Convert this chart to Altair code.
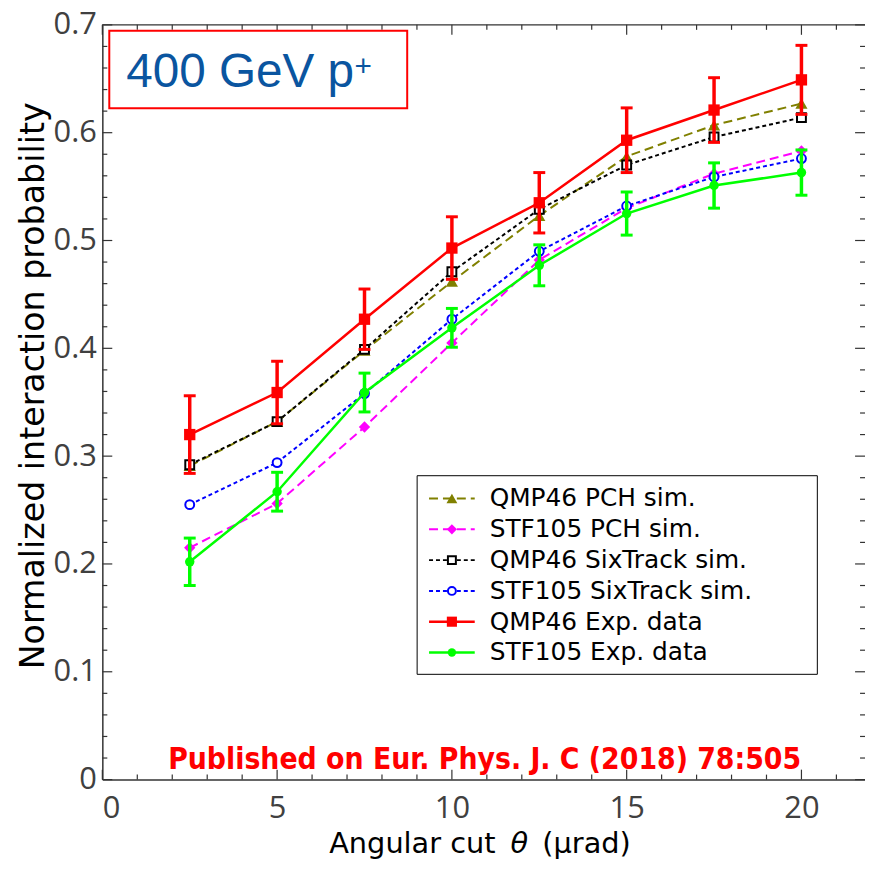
import altair as alt
import pandas as pd

# ---------------- data ----------------
theta = [2.5, 5, 7.5, 10, 12.5, 15, 17.5, 20]
qmp46_pch = [0.291, 0.332, 0.398, 0.462, 0.523, 0.578, 0.607, 0.627]
stf105_pch = [0.215, 0.256, 0.327, 0.405, 0.482, 0.530, 0.562, 0.583]
qmp46_six = [0.292, 0.332, 0.399, 0.471, 0.529, 0.570, 0.596, 0.614]
stf105_six = [0.255, 0.294, 0.358, 0.427, 0.490, 0.532, 0.559, 0.576]
qmp46_exp = [0.320, 0.359, 0.427, 0.493, 0.535, 0.593, 0.621, 0.649]
qmp46_err = [0.036, 0.029, 0.028, 0.029, 0.028, 0.030, 0.030, 0.032]
stf105_exp = [0.202, 0.267, 0.359, 0.419, 0.477, 0.525, 0.551, 0.563]
stf105_err = [0.022, 0.018, 0.018, 0.018, 0.019, 0.020, 0.021, 0.021]

labels = ["QMP46 PCH sim.", "STF105 PCH sim.", "QMP46 SixTrack sim.",
          "STF105 SixTrack sim.", "QMP46 Exp. data", "STF105 Exp. data"]

x_major = [0, 5, 10, 15, 20]
x_minor = [1, 2, 3, 4, 6, 7, 8, 9, 11, 12, 13, 14, 16, 17, 18, 19, 21]
y_major = [0, 0.1, 0.2, 0.3, 0.4, 0.5, 0.6, 0.7]
y_minor = [0.02, 0.04, 0.06, 0.08, 0.12, 0.14, 0.16, 0.18, 0.22, 0.24, 0.26, 0.28,
           0.32, 0.34, 0.36, 0.38, 0.42, 0.44, 0.46, 0.48, 0.52, 0.54, 0.56, 0.58,
           0.62, 0.64, 0.66, 0.68]

x_title_parts = ["Angular cut", "θ", "(μrad)"]
y_title = "Normalized interaction probability"

# ---------------- layout ----------------
W, H = 768, 760
XDOM = [0, W / 35.2]
YDOM = [0, 0.7]
TICKFONT = "Open Sans"
TITLEFONT = "DejaVu Sans"

xs = alt.Scale(domain=XDOM, nice=False, zero=False)
ys = alt.Scale(domain=YDOM, nice=False, zero=False)

XAXIS = alt.Axis(
    values=x_major, format="d", ticks=False, grid=False,
    domainColor="#333333", domainWidth=1.5,
    labelFont=TICKFONT, labelFontSize=31, labelColor="#404040", labelPadding=14,
    title=None)
YAXIS = alt.Axis(
    values=y_major, format="~g", ticks=False, grid=False,
    domainColor="#333333", domainWidth=1.5,
    labelFont=TICKFONT, labelFontSize=31, labelColor="#404040", labelPadding=6,
    title=y_title, titleFont=TITLEFONT,
    titleFontSize=33.5, titleFontWeight="normal", titleColor="#000000",
    titleX=-59, titleY=363, titleBaseline="alphabetic", titleAngle=270,
    titleAlign="center")


def X(field):
    return alt.X(field, scale=xs, axis=XAXIS)


def Y(field):
    return alt.Y(field, scale=ys, axis=YAXIS)


series = [
    # label, values, color, dash, shape, filled, size, strokeWidth
    (labels[0], qmp46_pch, "#808000", [9, 5], "triangle-up", True, 150, 2),
    (labels[1], stf105_pch, "#ff00ff", [9, 5], "diamond", True, 130, 2),
    (labels[2], qmp46_six, "#000000", [4, 3], "square", False, 80, 2),
    (labels[3], stf105_six, "#0000ff", [4, 3], "circle", False, 80, 2),
    (labels[4], qmp46_exp, "#ff0000", None, "square", True, 130, 2.5),
    (labels[5], stf105_exp, "#00ff00", None, "circle", True, 90, 2.5),
]
errs = {labels[4]: qmp46_err, labels[5]: stf105_err}

layers = []
frame_df = pd.DataFrame({"k": [0]})

# top frame line
layers.append(alt.Chart(frame_df).mark_rule(color="#333333", strokeWidth=1.5).encode(
    x=alt.value(0), x2=alt.value(W), y=alt.value(0)))


# inward ticks
def xticks(vals, length):
    d = pd.DataFrame({"theta": vals})
    bot = alt.Chart(d).mark_rule(color="#333333", strokeWidth=1.2).encode(
        x=X("theta:Q"), y=alt.value(H), y2=alt.value(H - length))
    top = alt.Chart(d).mark_rule(color="#333333", strokeWidth=1.2).encode(
        x=X("theta:Q"), y=alt.value(0), y2=alt.value(length))
    return [bot, top]


def yticks(vals, length):
    d = pd.DataFrame({"val": vals})
    lft = alt.Chart(d).mark_rule(color="#333333", strokeWidth=1.2).encode(
        y=Y("val:Q"), x=alt.value(0), x2=alt.value(length))
    rgt = alt.Chart(d).mark_rule(color="#333333", strokeWidth=1.2).encode(
        y=Y("val:Q"), x=alt.value(W), x2=alt.value(W - length))
    return [lft, rgt]


layers += xticks(x_major, 10) + xticks(x_minor, 5)
layers += yticks(y_major, 10) + yticks(y_minor, 5)

# series
for lab, vals, col, dash, shape, filled, size, sw in series:
    df = pd.DataFrame({"theta": theta, "val": vals})
    lk = dict(color=col, strokeWidth=sw)
    if dash:
        lk["strokeDash"] = dash
    enc = dict(x=X("theta:Q"), y=Y("val:Q"))
    layers.append(alt.Chart(df).mark_line(**lk).encode(**enc))
    if lab in errs:
        e = errs[lab]
        edf = pd.DataFrame({"theta": theta,
                            "val": [v - d for v, d in zip(vals, e)],
                            "hi": [v + d for v, d in zip(vals, e)]})
        layers.append(alt.Chart(edf).mark_rule(color=col, strokeWidth=3.5).encode(
            x=X("theta:Q"), y=Y("val:Q"), y2="hi:Q"))
        layers.append(alt.Chart(edf).mark_tick(
            color=col, orient="horizontal", size=12, thickness=3, opacity=1).encode(
            x=X("theta:Q"), y=Y("val:Q")))
        edf2 = pd.DataFrame({"theta": theta, "val": edf["hi"]})
        layers.append(alt.Chart(edf2).mark_tick(
            color=col, orient="horizontal", size=12, thickness=3, opacity=1).encode(
            x=X("theta:Q"), y=Y("val:Q")))
    pk = dict(shape=shape, size=size, opacity=1)
    if filled:
        pk.update(filled=True, color=col, strokeWidth=0)
    else:
        pk.update(filled=False, color=col, strokeWidth=2, fill="white")
    layers.append(alt.Chart(df).mark_point(**pk).encode(**enc))

# x axis title (with italic theta)
xt = pd.DataFrame({"a": [x_title_parts[0]], "b": [x_title_parts[1]], "c": [x_title_parts[2]]})
XT_BASE = 834
XT_SIZE = 29
layers.append(alt.Chart(xt).mark_text(
    font=TITLEFONT, fontSize=XT_SIZE, color="#000000", align="right",
    baseline="alphabetic").encode(x=alt.value(396), y=alt.value(XT_BASE), text="a:N"))
layers.append(alt.Chart(xt).mark_text(
    font=TITLEFONT, fontSize=XT_SIZE, fontStyle="italic", color="#000000", align="center",
    baseline="alphabetic").encode(x=alt.value(420), y=alt.value(XT_BASE), text="b:N"))
layers.append(alt.Chart(xt).mark_text(
    font=TITLEFONT, fontSize=XT_SIZE, color="#000000", align="left",
    baseline="alphabetic").encode(x=alt.value(443), y=alt.value(XT_BASE), text="c:N"))

# title box
tb = pd.DataFrame({"t": ["400 GeV p"], "s": ["+"]})
layers.append(alt.Chart(tb).mark_rect(fill="white", stroke="#ff0000", strokeWidth=2).encode(
    x=alt.value(7), x2=alt.value(307), y=alt.value(6), y2=alt.value(84)))
layers.append(alt.Chart(tb).mark_text(
    font="Liberation Sans", fontSize=48, color="#0a55a0", align="left",
    baseline="alphabetic").encode(x=alt.value(24), y=alt.value(63), text="t:N"))
layers.append(alt.Chart(tb).mark_text(
    font="Liberation Sans", fontSize=30, color="#0a55a0", align="left",
    baseline="alphabetic").encode(x=alt.value(254), y=alt.value(51), text="s:N"))

# publication note
pub = pd.DataFrame({"t": ["Published on Eur. Phys. J. C (2018) 78:505"]})
layers.append(alt.Chart(pub).mark_text(
    font="DejaVu Sans Condensed", fontSize=30, fontWeight="bold", color="#ff0000",
    align="center", baseline="alphabetic").encode(
    x=alt.value(385), y=alt.value(749), text="t:N"))

# legend
LX0, LX1, LY0, LY1 = 317, 720, 454, 654
layers.append(alt.Chart(frame_df).mark_rect(fill="white", stroke="#000000", strokeWidth=1).encode(
    x=alt.value(LX0), x2=alt.value(LX1), y=alt.value(LY0), y2=alt.value(LY1)))
for i, (lab, vals, col, dash, shape, filled, size, sw) in enumerate(series):
    yy = 477 + i * 31
    d = pd.DataFrame({"label": [lab]})
    lk = dict(color=col, strokeWidth=sw)
    if dash:
        lk["strokeDash"] = dash
    layers.append(alt.Chart(d).mark_rule(**lk).encode(
        x=alt.value(LX0 + 12), x2=alt.value(LX0 + 58), y=alt.value(yy)))
    pk = dict(shape=shape, size=size * 0.8, opacity=1)
    if filled:
        pk.update(filled=True, color=col, strokeWidth=0)
    else:
        pk.update(filled=False, color=col, strokeWidth=2, fill="white")
    layers.append(alt.Chart(d).mark_point(**pk).encode(
        x=alt.value(LX0 + 35), y=alt.value(yy)))
    layers.append(alt.Chart(d).mark_text(
        font="DejaVu Sans", fontSize=25, color="#000000", align="left",
        baseline="middle").encode(x=alt.value(LX0 + 73), y=alt.value(yy), text="label:N"))

chart = alt.layer(*layers).properties(
    width=W, height=H,
    autosize=alt.AutoSizeParams(type="none"),
    padding={"left": 95, "top": 14, "right": 0, "bottom": 80},
).configure_view(stroke=None)

chart.save("out.html", embed_options={"renderer": "svg", "actions": False})
